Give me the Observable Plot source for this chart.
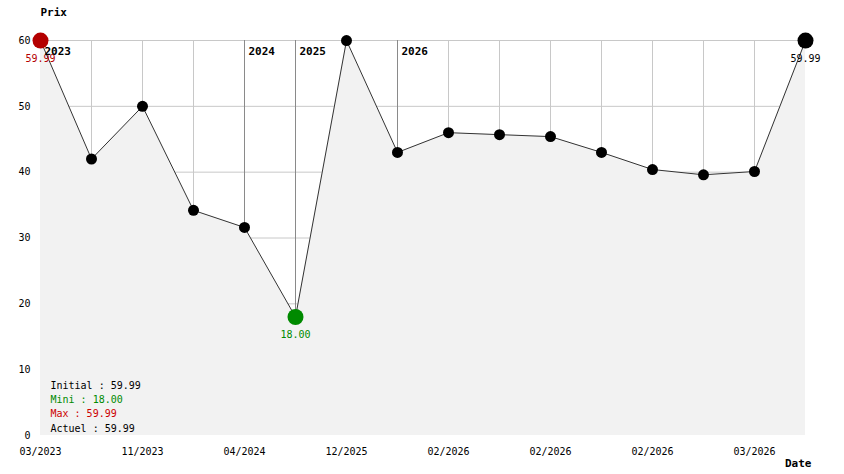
<!DOCTYPE html>
<html>
<head>
<meta charset="utf-8">
<script src="https://cdn.jsdelivr.net/npm/d3@7"></script>
<script src="https://cdn.jsdelivr.net/npm/@observablehq/plot@0.6"></script>
<style>
  html, body { margin: 0; padding: 0; background: #fff; }
  #chart svg { display: block; }
</style>
</head>
<body>
<div id="chart"></div>
<script>
// Prices, one per observation (index = position on the x axis)
const prices = [59.99, 42.0, 50.0, 34.2, 31.6, 18.0, 59.99, 43.0, 46.0, 45.7, 45.4, 43.0, 40.4, 39.6, 40.1, 59.99];
// x tick positions and their labels
const tickIdx = [0, 2, 4, 6, 8, 10, 12, 14];
const tickLabels = ["03/2023", "11/2023", "04/2024", "12/2025", "02/2026", "02/2026", "02/2026", "03/2026"];
// Year markers
const yearIdx = [0, 4, 5, 7];
const yearLabels = ["2023", "2024", "2025", "2026"];
const yTicks = [0, 10, 20, 30, 40, 50, 60];

const data = prices.map((p, i) => ({i, p}));
const years = yearIdx.map((i, k) => ({i, label: yearLabels[k]}));
const n = prices.length;

const initial = prices[0];
const actual = prices[n - 1];
const minV = d3.min(prices);
const maxV = d3.max(prices);
const minI = prices.indexOf(minV);
const maxI = prices.indexOf(maxV);
const fmt = v => v.toFixed(2);

const RED = "#b40000";
const GREEN = "#008a00";

const bigDots = [
  {i: maxI, p: prices[maxI], c: RED, t: fmt(maxV)},
  {i: minI, p: minV, c: GREEN, t: fmt(minV)},
  {i: n - 1, p: actual, c: "#000", t: fmt(actual)}
];

const chart = Plot.plot({
  width: 844,
  height: 474,
  marginLeft: 40,
  marginRight: 39,
  marginTop: 40,
  marginBottom: 39,
  style: {fontFamily: "'DejaVu Sans Mono', monospace", fontSize: "10px", background: "#fff", color: "#000"},
  x: {domain: [0, n - 1], axis: null},
  y: {domain: [0, 60], axis: null},
  marks: [
    Plot.ruleY(yTicks.filter(v => v > 0), {stroke: "#c8c8c8", strokeOpacity: 1}),
    Plot.ruleX(data.filter(d => d.i > 0 && d.i < n - 1), {x: "i", stroke: "#c8c8c8", strokeOpacity: 1}),
    Plot.ruleX(yearIdx, {stroke: "#8a8a8a", strokeOpacity: 1}),
    Plot.areaY(data, {x: "i", y: "p", fill: "#f2f2f2", fillOpacity: 1}),
    Plot.lineY(data, {x: "i", y: "p", stroke: "#333", strokeWidth: 1}),
    Plot.dot(data, {x: "i", y: "p", r: 5.5, fill: "#000", stroke: "none"}),
    Plot.dot(bigDots, {x: "i", y: "p", r: 8, fill: "c", stroke: "none"}),
    Plot.text(bigDots, {x: "i", y: "p", text: "t", fill: "c", dy: 18}),
    Plot.text(years, {x: "i", text: "label", frameAnchor: "top", lineAnchor: "middle", textAnchor: "start", dx: 4, dy: 11, fontWeight: "bold", fontSize: 11}),
    // axes
    Plot.axisY(yTicks, {tickSize: 0, tickPadding: 10, fontSize: 10, label: null}),
    Plot.axisX(tickIdx, {tickSize: 0, tickPadding: 12, tickFormat: (d) => tickLabels[tickIdx.indexOf(d)], fontSize: 10, label: null}),
    // axis titles
    Plot.text(["Prix"], {frameAnchor: "top-left", lineAnchor: "middle", textAnchor: "start", dy: -28, fontWeight: "bold", fontSize: 11}),
    Plot.text(["Date"], {frameAnchor: "bottom-right", lineAnchor: "middle", textAnchor: "end", dx: 6, dy: 28, fontWeight: "bold", fontSize: 11}),
    // legend
    Plot.text(["Initial : " + fmt(initial)], {frameAnchor: "bottom-left", lineAnchor: "middle", textAnchor: "start", dx: 10, dy: -50, fill: "#000"}),
    Plot.text(["Mini : " + fmt(minV)], {frameAnchor: "bottom-left", lineAnchor: "middle", textAnchor: "start", dx: 10, dy: -36, fill: GREEN}),
    Plot.text(["Max : " + fmt(maxV)], {frameAnchor: "bottom-left", lineAnchor: "middle", textAnchor: "start", dx: 10, dy: -22, fill: "#cc0000"}),
    Plot.text(["Actuel : " + fmt(actual)], {frameAnchor: "bottom-left", lineAnchor: "middle", textAnchor: "start", dx: 10, dy: -7, fill: "#000"})
  ]
});
document.getElementById("chart").append(chart);
</script>
</body>
</html>
